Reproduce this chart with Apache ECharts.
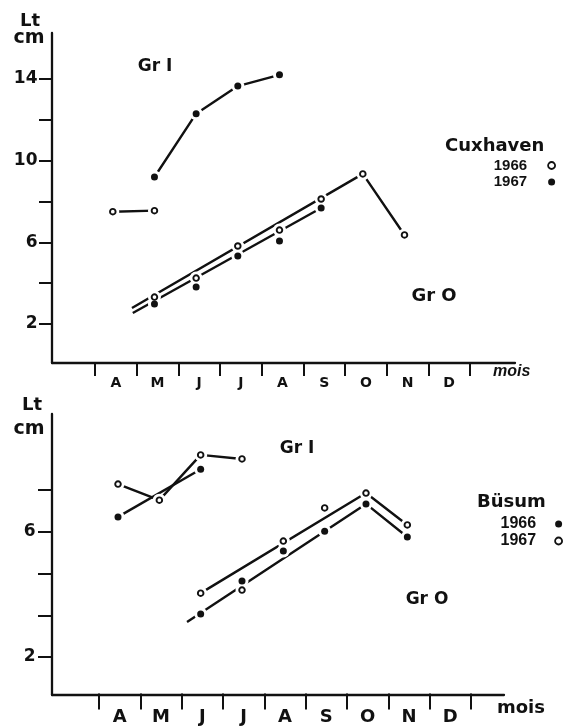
<!DOCTYPE html>
<html>
<head>
<meta charset="utf-8">
<script src="https://cdn.jsdelivr.net/npm/echarts@6/dist/echarts.min.js"></script>
<style>
  html, body { margin: 0; padding: 0; background: #fff; }
  #chart { width: 566px; height: 726px; }
</style>
</head>
<body>
<div id="chart"></div>
<script>
// Month tick labels, April to December. Points are placed by month number (4 = April ... 12 = December).
const monthLabels = ['A', 'M', 'J', 'J', 'A', 'S', 'O', 'N', 'D'];

// Cuxhaven: mean length (cm) per month
const cuxGrI1966Month = [4, 5];
const cuxGrI1966Cm = [7.5, 7.55];
const cuxGrI1967Month = [5, 6, 7, 8];
const cuxGrI1967Cm = [9.2, 12.3, 13.65, 14.2];
const cuxGrO1966Month = [5, 6, 7, 8, 9, 10, 11];
const cuxGrO1966Cm = [3.32, 4.25, 5.82, 6.6, 8.12, 9.35, 6.36];
const cuxGrO1967Month = [5, 6, 7, 8, 9];
const cuxGrO1967Cm = [2.98, 3.81, 5.33, 6.06, 7.68];
// Growth lines fitted through the Gr O points
const cuxGrO1966LineMonth = [4.46, 10, 11];
const cuxGrO1966LineCm = [2.78, 9.35, 6.36];
const cuxGrO1967LineMonth = [4.48, 9];
const cuxGrO1967LineCm = [2.54, 7.68];
// Length axis ticks and the ones that carry a label
const cuxTickMin = 2, cuxTickMax = 14, cuxTickStep = 2;
const cuxTickLabels = [2, 6, 10, 14];

// Büsum: mean length (cm) per month
const busGrI1966Month = [4, 6];
const busGrI1966Cm = [6.52, 8.06];
const busGrI1967Month = [4, 5, 6, 7];
const busGrI1967Cm = [7.58, 7.06, 8.52, 8.39];
const busGrO1966Month = [6, 7, 8, 9, 10, 11];
const busGrO1966Cm = [3.39, 4.45, 5.42, 6.06, 6.94, 5.87];
const busGrO1967Month = [6, 7, 8, 9, 10, 11];
const busGrO1967Cm = [4.06, 4.16, 5.74, 6.81, 7.29, 6.26];
const busGrO1966LineMonth = [5.67, 10, 11];
const busGrO1966LineCm = [3.13, 6.94, 5.87];
const busGrO1967LineMonth = [6, 10, 11];
const busGrO1967LineCm = [4.06, 7.29, 6.26];
const busTickMin = 2, busTickStep = 4 / 3, busTickCount = 4;
const busTickLabels = [2, 6];

const INK = '#111';
const pairs = (xs, ys) => xs.map((x, i) => [x, ys[i]]);

function lineSeries(xs, ys, ax) {
  return {
    type: 'line', xAxisIndex: ax, yAxisIndex: ax, data: pairs(xs, ys),
    symbol: 'none', silent: true, zlevel: 0, z: 1,
    lineStyle: { color: INK, width: 2.4, cap: 'butt', opacity: 1 }
  };
}
// white halo that leaves a small gap in the lines around each point
function haloSeries(data, ax) {
  return {
    type: 'scatter', xAxisIndex: ax, yAxisIndex: ax, data: data,
    symbol: 'circle', symbolSize: 13, silent: true, zlevel: 1, z: 1,
    itemStyle: { color: '#fff', opacity: 1 }
  };
}
function pointSeries(name, data, ax, open) {
  return {
    name: name, type: 'scatter', xAxisIndex: ax, yAxisIndex: ax, data: data,
    symbol: 'circle', symbolSize: open ? 5.6 : 7, silent: true, zlevel: 2, z: 1,
    itemStyle: open
      ? { color: '#fff', borderColor: INK, borderWidth: 1.9, opacity: 1 }
      : { color: INK, opacity: 1 }
  };
}

const cux66 = pairs(cuxGrI1966Month, cuxGrI1966Cm).concat(pairs(cuxGrO1966Month, cuxGrO1966Cm));
const cux67 = pairs(cuxGrI1967Month, cuxGrI1967Cm).concat(pairs(cuxGrO1967Month, cuxGrO1967Cm));
const bus66 = pairs(busGrI1966Month, busGrI1966Cm).concat(pairs(busGrO1966Month, busGrO1966Cm));
const bus67 = pairs(busGrI1967Month, busGrI1967Cm).concat(pairs(busGrO1967Month, busGrO1967Cm));

const axisFont = 'DejaVu Sans';
const hidden = { show: false };

function dataAxis(gridIndex, min, max) {
  return {
    type: 'value', gridIndex, min, max,
    axisLine: { show: true, onZero: false, lineStyle: { color: INK, width: 2.3 } },
    axisTick: hidden, axisLabel: hidden, splitLine: hidden
  };
}
function monthAxis(gridIndex, fontSize, tickLen, margin, nameGap, nameStyle) {
  return {
    type: 'category', gridIndex, data: monthLabels, boundaryGap: true,
    axisLine: hidden, splitLine: hidden,
    axisTick: { show: true, interval: 0, length: tickLen, lineStyle: { color: INK, width: 2 } },
    axisLabel: { interval: 0, margin, color: INK, fontFamily: axisFont, fontWeight: 'bold', fontSize },
    name: 'mois', nameLocation: 'end', nameGap, nameTextStyle: nameStyle
  };
}
function lengthAxis(gridIndex, min, max, step, labelled, fontSize, tickLen, margin) {
  return {
    type: 'value', gridIndex, min, max, interval: step,
    axisLine: hidden, splitLine: hidden,
    axisTick: { show: true, length: tickLen, lineStyle: { color: INK, width: 2 } },
    axisLabel: {
      margin, color: INK, fontFamily: axisFont, fontWeight: 'bold', fontSize,
      formatter: v => {
        const hit = labelled.find(l => Math.abs(l - v) < 1e-6);
        return hit === undefined ? '' : String(hit);
      }
    }
  };
}
const hiddenValue = gi => ({ type: 'value', gridIndex: gi, show: false, min: 0, max: 1 });

const option = {
  animation: false,
  backgroundColor: '#fff',
  grid: [
    { left: 52, right: 51, top: 33, bottom: 363 },   // Cuxhaven plot
    { left: 95, right: 96, top: 33, bottom: 363 },   // Cuxhaven month ticks
    { left: 52, right: 51, top: 79, bottom: 402 },   // Cuxhaven length ticks
    { left: 52, right: 62, top: 414, bottom: 31 },   // Büsum plot
    { left: 99, right: 95, top: 414, bottom: 31 },   // Büsum month ticks
    { left: 52, right: 62, top: 490, bottom: 69 }    // Büsum length ticks
  ],
  xAxis: [
    dataAxis(0, 2.541, 13.652),
    monthAxis(1, 14, 13, 13, 23, {
      fontFamily: 'Liberation Sans', fontStyle: 'italic', fontWeight: 'bold', fontSize: 16,
      color: INK, align: 'left', verticalAlign: 'top', lineHeight: 18
    }),
    hiddenValue(2),
    dataAxis(3, 2.403, 13.339),
    monthAxis(4, 18, 16, 14.5, 26, {
      fontFamily: axisFont, fontWeight: 'bold', fontSize: 18,
      color: INK, align: 'left', verticalAlign: 'top', lineHeight: 29
    }),
    hiddenValue(5)
  ],
  yAxis: [
    dataAxis(0, 0.09, 16.25),
    hiddenValue(1),
    lengthAxis(2, cuxTickMin, cuxTickMax, cuxTickStep, cuxTickLabels, 17, 13, 14.5),
    dataAxis(3, 0.774, 9.84),
    hiddenValue(4),
    lengthAxis(5, busTickMin, busTickMin + busTickCount * busTickStep, busTickStep, busTickLabels, 17, 14, 16.5)
  ],
  title: [
    { text: 'Cuxhaven', left: 445, top: 137, padding: 0,
      textStyle: { fontFamily: axisFont, fontWeight: 'bold', fontSize: 18, color: INK } },
    { text: 'Büsum', left: 477, top: 493, padding: 0,
      textStyle: { fontFamily: axisFont, fontWeight: 'bold', fontSize: 18, color: INK } }
  ],
  legend: [
    {
      orient: 'vertical', right: 10, top: 158, align: 'right', padding: 0,
      itemWidth: 7, itemHeight: 7, itemGap: 1.5, selectedMode: false,
      formatter: n => n.slice(-4),
      textStyle: { fontFamily: 'Liberation Sans', fontWeight: 'bold', fontSize: 15, color: INK, padding: [0, 16, 0, 0] },
      data: [
        { name: 'Cuxhaven 1966', icon: 'circle', itemStyle: { color: '#fff', borderColor: INK, borderWidth: 1.8, opacity: 1 } },
        { name: 'Cuxhaven 1967', icon: 'circle', itemStyle: { color: INK, borderWidth: 0, opacity: 1 } }
      ]
    },
    {
      orient: 'vertical', right: 3, top: 516, align: 'right', padding: 0,
      itemWidth: 7, itemHeight: 7, itemGap: 1, selectedMode: false,
      formatter: n => n.slice(-4),
      textStyle: { fontFamily: 'Liberation Sans', fontWeight: 'bold', fontSize: 16, color: INK, padding: [0, 14, 0, 0] },
      data: [
        { name: 'Büsum 1966', icon: 'circle', itemStyle: { color: INK, borderWidth: 0, opacity: 1 } },
        { name: 'Büsum 1967', icon: 'circle', itemStyle: { color: '#fff', borderColor: INK, borderWidth: 1.8, opacity: 1 } }
      ]
    }
  ],
  graphic: [
    { type: 'text', x: 30, y: 21.5, style: { text: 'Lt', align: 'center', verticalAlign: 'middle', fill: INK, fontFamily: axisFont, fontWeight: 'bold', fontSize: 18 } },
    { type: 'text', x: 29, y: 38.5, style: { text: 'cm', align: 'center', verticalAlign: 'middle', fill: INK, fontFamily: axisFont, fontWeight: 'bold', fontSize: 19 } },
    { type: 'text', x: 32, y: 405.5, style: { text: 'Lt', align: 'center', verticalAlign: 'middle', fill: INK, fontFamily: axisFont, fontWeight: 'bold', fontSize: 18 } },
    { type: 'text', x: 29, y: 429, style: { text: 'cm', align: 'center', verticalAlign: 'middle', fill: INK, fontFamily: axisFont, fontWeight: 'bold', fontSize: 19 } },
    { type: 'text', x: 155, y: 67, style: { text: 'Gr I', align: 'center', verticalAlign: 'middle', fill: INK, fontFamily: axisFont, fontWeight: 'bold', fontSize: 17 } },
    { type: 'text', x: 434, y: 296, style: { text: 'Gr O', align: 'center', verticalAlign: 'middle', fill: INK, fontFamily: axisFont, fontWeight: 'bold', fontSize: 18 } },
    { type: 'text', x: 297, y: 449, style: { text: 'Gr I', align: 'center', verticalAlign: 'middle', fill: INK, fontFamily: axisFont, fontWeight: 'bold', fontSize: 17 } },
    { type: 'text', x: 427, y: 600, style: { text: 'Gr O', align: 'center', verticalAlign: 'middle', fill: INK, fontFamily: axisFont, fontWeight: 'bold', fontSize: 17 } }
  ],
  series: [
    // Cuxhaven
    lineSeries(cuxGrI1966Month, cuxGrI1966Cm, 0),
    lineSeries(cuxGrI1967Month, cuxGrI1967Cm, 0),
    lineSeries(cuxGrO1966LineMonth, cuxGrO1966LineCm, 0),
    lineSeries(cuxGrO1967LineMonth, cuxGrO1967LineCm, 0),
    haloSeries(cux66.concat(cux67), 0),
    pointSeries('Cuxhaven 1966', cux66, 0, true),
    pointSeries('Cuxhaven 1967', cux67, 0, false),
    // Büsum
    lineSeries(busGrI1966Month, busGrI1966Cm, 3),
    lineSeries(busGrI1967Month, busGrI1967Cm, 3),
    lineSeries(busGrO1966LineMonth, busGrO1966LineCm, 3),
    lineSeries(busGrO1967LineMonth, busGrO1967LineCm, 3),
    haloSeries(bus66.concat(bus67), 3),
    pointSeries('Büsum 1966', bus66, 3, false),
    pointSeries('Büsum 1967', bus67, 3, true)
  ]
};

const chart = echarts.init(document.getElementById('chart'), null, { renderer: 'canvas' });
chart.setOption(option);
</script>
</body>
</html>
